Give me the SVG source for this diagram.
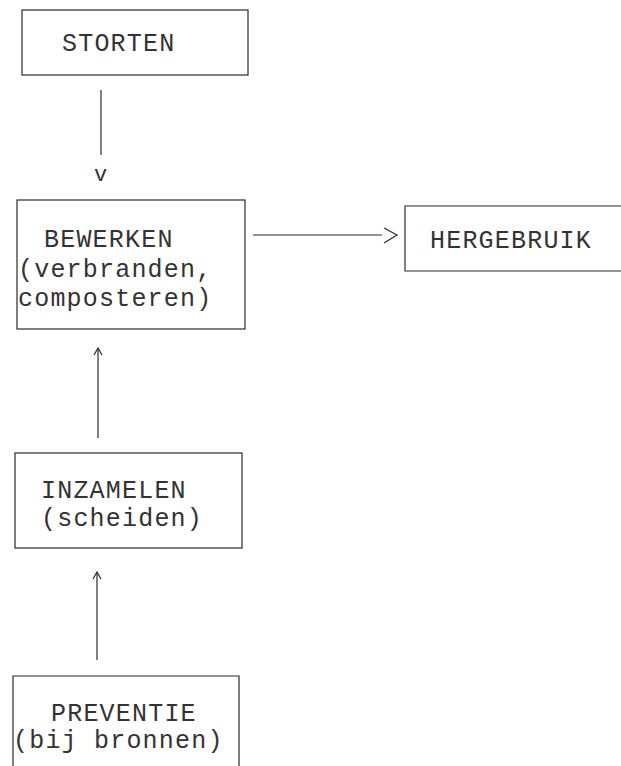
<svg xmlns="http://www.w3.org/2000/svg" width="621" height="766" viewBox="0 0 621 766">
<style>
.box{fill:none;stroke:#2a2a2a;stroke-width:1.2}
.ln{fill:none;stroke:#2a2a2a;stroke-width:1.2}
.t{font-family:"Liberation Mono","DejaVu Sans Mono",monospace;font-size:25px;letter-spacing:1.2px;fill:#333333}
</style>
<rect width="621" height="766" fill="#ffffff"/>
<g id="storten">
<rect class="box" x="22" y="10" width="226" height="65"/>
<text class="t" x="62" y="51">STORTEN</text>
</g>
<g id="bewerken">
<rect class="box" x="17" y="200" width="228" height="129"/>
<text class="t" x="44" y="247">BEWERKEN</text>
<text class="t" x="18" y="277">(verbranden,</text>
<text class="t" x="18" y="306">composteren)</text>
</g>
<g id="hergebruik">
<path class="box" d="M630,206 H405 V271 H630"/>
<text class="t" x="430" y="248">HERGEBRUIK</text>
</g>
<g id="inzamelen">
<rect class="box" x="15" y="453" width="227" height="95"/>
<text class="t" x="41" y="498">INZAMELEN</text>
<text class="t" x="41" y="526">(scheiden)</text>
</g>
<g id="preventie">
<path class="box" d="M13,780 V676 H239 V780"/>
<text class="t" x="51" y="721">PREVENTIE</text>
<text class="t" x="13" y="748">(bij bronnen)</text>
</g>
<g id="connectors">
<line class="ln" x1="101" y1="90" x2="101" y2="155"/>
<text class="t" x="94" y="181" style="font-size:22px">v</text>
<line class="ln" x1="253" y1="235" x2="382" y2="235"/>
<polyline class="ln" points="384,228 397,235 384,243"/>
<line class="ln" x1="98" y1="349" x2="98" y2="438"/>
<polyline class="ln" points="94,355 98,348 102,355"/>
<line class="ln" x1="97" y1="573" x2="97" y2="660"/>
<polyline class="ln" points="93,579 97,572 101,579"/>
</g>
</svg>
